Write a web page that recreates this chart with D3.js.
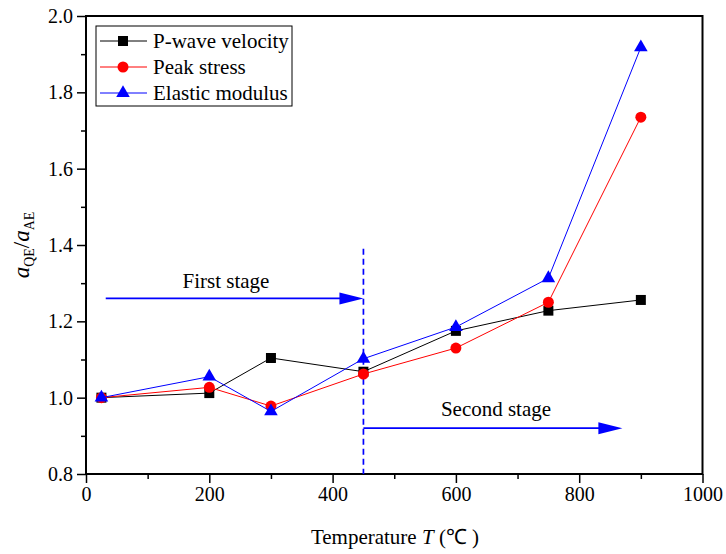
<!doctype html>
<html>
<head>
    <script src="https://d3js.org/d3.v7.min.js"></script>
</head>
<body style="margin:0">
    <script>
        let temps = [25, 200, 300, 450, 600, 750, 900];
        let pWave = [1.0, 1.012, 1.104, 1.068, 1.175, 1.228, 1.256];
        let peakStress = [1.0, 1.027, 0.978, 1.062, 1.13, 1.25, 1.735];
        let elastic = [1.0, 1.055, 0.964, 1.102, 1.185, 1.313, 1.918];
        let xTicks = [0, 200, 400, 600, 800, 1000];
        let yTicks = [0.8, 1.0, 1.2, 1.4, 1.6, 1.8, 2.0];

        let series = [
            {name: "P-wave velocity", values: pWave, color: "#000", shape: d3.symbolSquare, size: 100},
            {name: "Peak stress", values: peakStress, color: "#ff0000", shape: d3.symbolCircle, size: 95},
            {name: "Elastic modulus", values: elastic, color: "#0000ff", shape: d3.symbolTriangle, size: 80}
        ];

        let serif = "Liberation Serif";
        let width = 726, height = 554;
        let x = d3.scaleLinear().domain([0, 1000]).range([86, 702.5]);
        let y = d3.scaleLinear().domain([0.8, 2.0]).range([474, 16]);

        let svg = d3.select("body").append("svg")
                    .attr("width", width).attr("height", height)
                    .attr("font-family", serif);

        // frame
        svg.append("rect")
           .attr("x", x(0)).attr("y", y(2.0))
           .attr("width", x(1000) - x(0)).attr("height", y(0.8) - y(2.0))
           .attr("fill", "none").attr("stroke", "#000").attr("stroke-width", 2);

        // x axis
        svg.append("g").attr("transform", "translate(0," + y(0.8) + ")")
            .call(d3.axisBottom(x).tickValues(xTicks).tickSize(9).tickPadding(4).tickFormat(d3.format("d")));
        svg.append("g").attr("transform", "translate(0," + y(0.8) + ")")
            .call(d3.axisBottom(x).tickValues([100, 300, 500, 700, 900]).tickSize(5).tickFormat(""));

        // y axis
        svg.append("g").attr("transform", "translate(" + x(0) + ",0)")
            .call(d3.axisLeft(y).tickValues(yTicks).tickSize(9).tickPadding(4).tickFormat(d3.format(".1f")));
        svg.append("g").attr("transform", "translate(" + x(0) + ",0)")
            .call(d3.axisLeft(y).tickValues([0.9, 1.1, 1.3, 1.5, 1.7, 1.9]).tickSize(5).tickFormat(""));

        svg.selectAll(".domain").remove();
        svg.selectAll("g").attr("font-family", serif).attr("font-size", 20);
        svg.selectAll(".tick line").attr("stroke", "#000").attr("stroke-width", 1.5);
        svg.selectAll(".tick text").attr("fill", "#000");

        // stage markers
        let blue = "#0000ff";
        svg.append("line")
           .attr("x1", x(450)).attr("x2", x(450))
           .attr("y1", y(1.39)).attr("y2", y(0.8))
           .attr("stroke", blue).attr("stroke-width", 1.7).attr("stroke-dasharray", "6,4");

        function arrow(x1, x2, yv) {
            svg.append("line")
               .attr("x1", x(x1)).attr("x2", x(x2) - 22)
               .attr("y1", y(yv)).attr("y2", y(yv))
               .attr("stroke", blue).attr("stroke-width", 1.7);
            let ex = x(x2), ey = y(yv);
            svg.append("path")
               .attr("d", "M" + ex + "," + ey + "L" + (ex - 24) + "," + (ey - 6) + "L" + (ex - 24) + "," + (ey + 6) + "Z")
               .attr("fill", blue);
        }
        arrow(32, 450, 1.26);
        arrow(450, 870, 0.92);

        svg.append("text").attr("x", 226).attr("y", y(1.26) - 10)
           .attr("text-anchor", "middle").attr("font-size", 21).text("First stage");
        svg.append("text").attr("x", 496).attr("y", y(0.92) - 12)
           .attr("text-anchor", "middle").attr("font-size", 21).text("Second stage");

        // series
        let line = d3.line().x((d, i) => x(temps[i])).y(d => y(d));
        series.forEach(s => {
            svg.append("path").datum(s.values)
               .attr("d", line).attr("fill", "none")
               .attr("stroke", s.color).attr("stroke-width", 1);
            svg.selectAll(null).data(s.values).enter().append("path")
               .attr("transform", (d, i) => "translate(" + x(temps[i]) + "," + y(d) + ")")
               .attr("d", d3.symbol().type(s.shape).size(s.size))
               .attr("fill", s.color);
        });

        // legend
        let legend = svg.append("g");
        legend.append("rect").attr("x", 96).attr("y", 26).attr("width", 196).attr("height", 80)
              .attr("fill", "#fff").attr("stroke", "#000").attr("stroke-width", 1);
        series.forEach((s, i) => {
            let ly = 41 + i * 26;
            legend.append("line").attr("x1", 100).attr("x2", 147).attr("y1", ly).attr("y2", ly)
                  .attr("stroke", s.color).attr("stroke-width", 1);
            legend.append("path").attr("transform", "translate(123," + ly + ")")
                  .attr("d", d3.symbol().type(s.shape).size(s.size))
                  .attr("fill", s.color);
            legend.append("text").attr("x", 153).attr("y", ly + 7)
                  .attr("font-size", 21).text(s.name);
        });

        // axis titles
        let xt = svg.append("text").attr("x", 395).attr("y", 544).attr("text-anchor", "middle")
                    .attr("font-size", 21);
        xt.append("tspan").text("Temperature ");
        xt.append("tspan").attr("font-style", "italic").text("T");
        xt.append("tspan").text(" (℃ )");

        let yt = svg.append("text").attr("transform", "translate(29,245) rotate(-90)")
                    .attr("text-anchor", "middle").attr("font-size", 23);
        yt.append("tspan").attr("font-style", "italic").text("a");
        yt.append("tspan").attr("dy", 5).attr("font-size", 14).text("QE");
        yt.append("tspan").attr("dy", -5).text("/");
        yt.append("tspan").attr("font-style", "italic").text("a");
        yt.append("tspan").attr("dy", 5).attr("font-size", 14).text("AE");

        svg.selectAll("text").attr("font-family", serif);
    </script>
</body>
</html>
